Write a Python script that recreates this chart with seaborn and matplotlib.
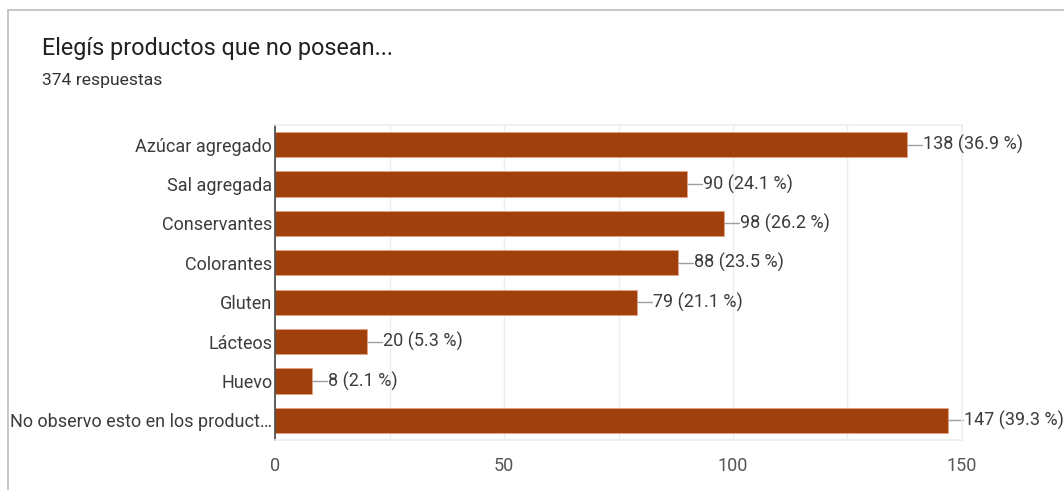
import matplotlib
matplotlib.use("Agg")
import matplotlib.pyplot as plt
import seaborn as sns
import pandas as pd
from matplotlib.patches import Rectangle
from matplotlib.lines import Line2D

categories = [
    "Azúcar agregado",
    "Sal agregada",
    "Conservantes",
    "Colorantes",
    "Gluten",
    "Lácteos",
    "Huevo",
    "No observo esto en los product\u2026",
]
counts = [138, 90, 98, 88, 79, 20, 8, 147]
percents = [36.9, 24.1, 26.2, 23.5, 21.1, 5.3, 2.1, 39.3]
x_ticks = [0, 50, 100, 150]

title = "Elegís productos que no posean..."
subtitle = "374 respuestas"

sns.set_theme(style="white")
plt.rcParams["font.family"] = ["Roboto", "DejaVu Sans"]

df = pd.DataFrame({"categoria": categories, "n": counts})

fig = plt.figure(figsize=(10.64, 4.9), dpi=100)
ax = fig.add_axes([275 / 1064, 1 - 440 / 490, (962 - 275) / 1064, 315 / 490])

sns.barplot(data=df, y="categoria", x="n", orient="h", color="#A0410D",
            saturation=1, width=0.64, edgecolor="#E8A383", linewidth=0.6, ax=ax)

ax.set_xlim(0, 150)
ax.set_ylim(7.5, -0.5)
ax.set_xticks(x_ticks)
ax.set_xticks([25, 75, 125], minor=True)
ax.grid(axis="x", which="both", color="#EEEEEE", linewidth=1)
ax.set_axisbelow(True)
ax.set_xlabel("")
ax.set_ylabel("")
for side in ["top", "right", "bottom"]:
    ax.spines[side].set_color("#EEEEEE")
ax.spines["left"].set_color("#444444")
ax.spines["left"].set_linewidth(1.2)
ax.tick_params(axis="both", length=0, labelsize=13, colors="#3c3c3c")
ax.tick_params(axis="x", pad=12, colors="#555555")
ax.tick_params(axis="y", pad=2)

# value labels with short leader lines
for i, (c, p) in enumerate(zip(counts, percents)):
    ax.add_line(Line2D([c, c + 3.3], [i, i], color="#9E9E9E", linewidth=1,
                       clip_on=False))
    ax.annotate(f"{c} ({p} %)", xy=(c, i), xytext=(11.5, 0),
                textcoords="offset points", va="center", ha="left",
                fontsize=13, color="#3c3c3c", annotation_clip=False)

# card border
fig.patches.append(Rectangle((8 / 1064, -0.1), 1.2, 1 - 10 / 490 + 0.1,
                             transform=fig.transFigure, fill=False,
                             edgecolor="#BDBDBD", linewidth=1.2))

fig.text(42 / 1064, 1 - 48 / 490, title, fontsize=16.8, color="#212121",
         va="center", ha="left")
fig.text(42 / 1064, 1 - 81 / 490, subtitle, fontsize=12.6, color="#333333",
         va="center", ha="left")

fig.savefig("out.png", dpi=100, facecolor="white")
